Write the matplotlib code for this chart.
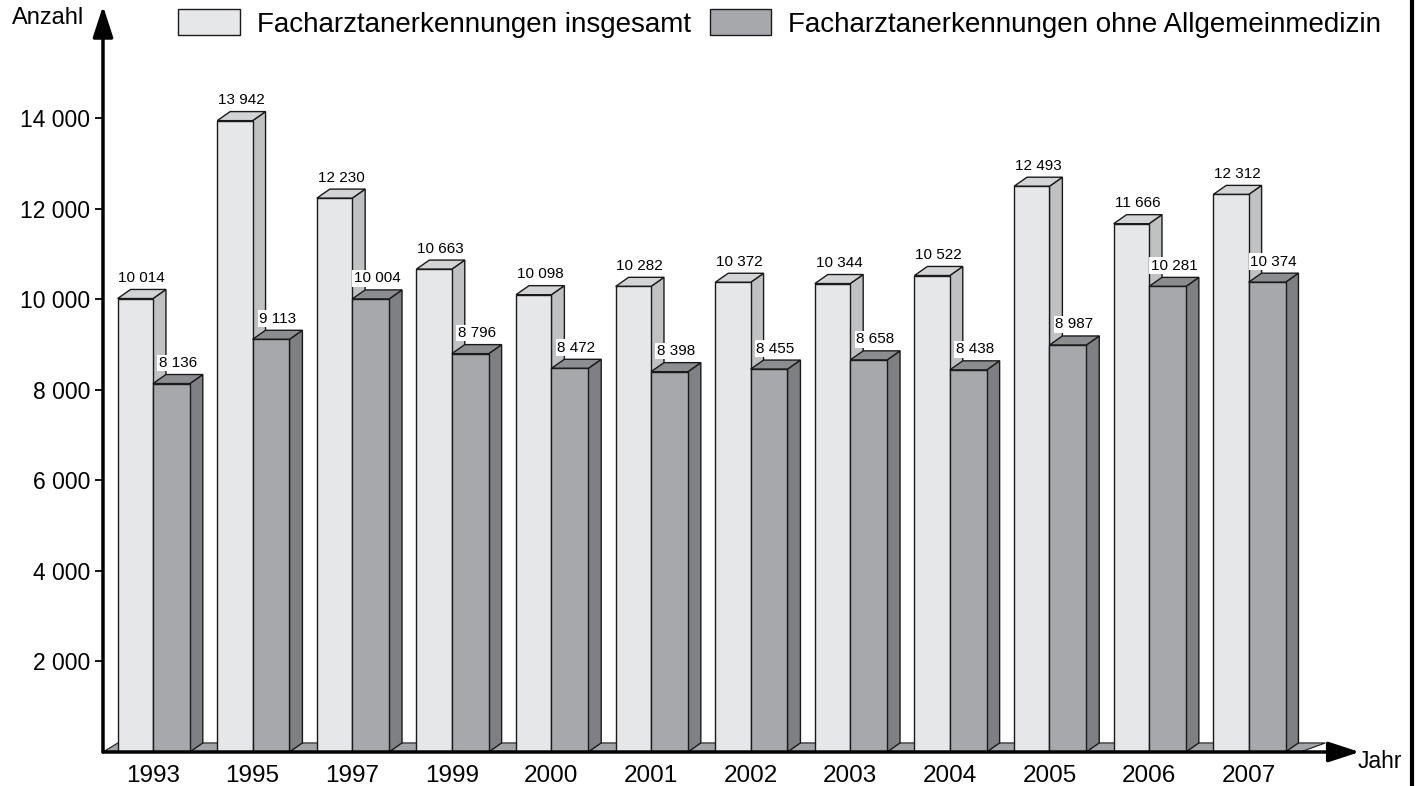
import matplotlib.pyplot as plt
from matplotlib.patches import Polygon, Patch
from matplotlib.lines import Line2D

plt.rcParams['font.family'] = ['Liberation Sans', 'DejaVu Sans']

years = ['1993', '1995', '1997', '1999', '2000', '2001', '2002', '2003',
         '2004', '2005', '2006', '2007']
insgesamt = [10014, 13942, 12230, 10663, 10098, 10282, 10372, 10344,
             10522, 12493, 11666, 12312]
ohne_allg = [8136, 9113, 10004, 8796, 8472, 8398, 8455, 8658,
             8438, 8987, 10281, 10374]
yticks = [2000, 4000, 6000, 8000, 10000, 12000, 14000]

light = dict(front='#e6e7e9', top='#d3d4d6', side='#c0c1c3')
dark = dict(front='#a7a8ab', top='#8c8d90', side='#7f8083')
edge = '#1a1a1a'

W, H = 1417, 786
fig = plt.figure(figsize=(W / 100, H / 100), dpi=100)
ax = fig.add_axes([103 / W, 34 / H, (1412 - 103) / W, 752 / H])
ax.set_xlim(-0.502, 12.64)
ax.set_ylim(0, 16606)

dx, dy = 0.13, 200
w1, w2 = 0.355, 0.37


def box3d(x0, x1, h, c, z):
    front = [(x0, 0), (x1, 0), (x1, h), (x0, h)]
    top = [(x0, h), (x1, h), (x1 + dx, h + dy), (x0 + dx, h + dy)]
    side = [(x1, 0), (x1 + dx, dy), (x1 + dx, h + dy), (x1, h)]
    for pts, col in ((side, c['side']), (top, c['top']), (front, c['front'])):
        ax.add_patch(Polygon(pts, closed=True, facecolor=col, edgecolor=edge,
                             lw=1.0, zorder=z, joinstyle='miter'))


# floor
fx0, fx1 = -0.502, 11.52
ax.add_patch(Polygon([(fx0, 0), (fx1, 0), (fx1 + 0.25, dy), (fx0 + 0.15, dy)],
                     closed=True, facecolor='#a3a4a7', edgecolor=edge, lw=0.8,
                     zorder=1))

for i, (a, b) in enumerate(zip(insgesamt, ohne_allg)):
    z = 2 + i * 2
    box3d(i - w1, i, a, light, z)
    box3d(i, i + w2, b, dark, z + 1)
    ax.text(i - w1 / 2 + dx / 2, a + dy + 100, f'{a:,}'.replace(',', ' '),
            ha='center', va='bottom', fontsize=11, zorder=50)
    ax.text(i + w2 / 2 + dx / 2, b + dy + 100, f'{b:,}'.replace(',', ' '),
            ha='center', va='bottom', fontsize=11, zorder=50,
            bbox=dict(facecolor='white', edgecolor='none', pad=1))

for s in ax.spines.values():
    s.set_visible(False)
ax.set_xticks(range(len(years)))
ax.set_xticklabels(years, fontsize=17.5)
ax.tick_params(axis='x', length=0, pad=9)
ax.set_yticks(yticks)
ax.set_yticklabels([f'{v:,}'.replace(',', ' ') for v in yticks], fontsize=16.5)
ax.tick_params(axis='y', length=6, width=1.3, direction='out', pad=3)

# axes arrows
arrow = dict(arrowstyle='-|>,head_length=0.95,head_width=0.31', lw=2.5,
             color='black', mutation_scale=20, shrinkA=0, shrinkB=0)
ax.annotate('', xy=(0.960, 0), xytext=(0, 0), xycoords='axes fraction',
            arrowprops=arrow, zorder=60)
ax.annotate('', xy=(0, 0.992), xytext=(0, 0), xycoords='axes fraction',
            arrowprops=arrow, zorder=60)
fig.text(1358 / W, 1 - 762 / H, 'Jahr', fontsize=16.5, va='center', ha='left')
fig.text(12 / W, 1 - 18 / H, 'Anzahl', fontsize=17, va='center', ha='left')

fig.add_artist(Line2D([1412 / W, 1412 / W], [0, 1], color='black', lw=3,
                      transform=fig.transFigure))

handles = [Patch(facecolor=light['front'], edgecolor=edge, lw=1),
           Patch(facecolor=dark['front'], edgecolor=edge, lw=1)]
fig.legend(handles, ['Facharztanerkennungen insgesamt',
                     'Facharztanerkennungen ohne Allgemeinmedizin'],
           loc='upper left', bbox_to_anchor=(178 / W, 1 - 9 / H), ncol=2,
           frameon=False, fontsize=20, borderpad=0, borderaxespad=0,
           handlelength=2.23, handleheight=1.08, handletextpad=0.6,
           columnspacing=0.68)

fig.savefig('out.png', dpi=100)
